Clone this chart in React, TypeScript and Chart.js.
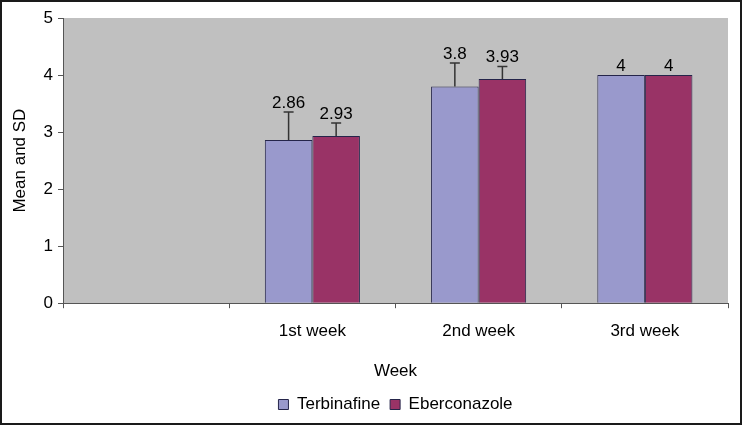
import React, { useEffect, useRef } from 'react';
import { Chart, registerables } from 'chart.js';

Chart.register(...registerables);

const categories = ['', '1st week', '2nd week', '3rd week'];
const seriesNames = ['Terbinafine', 'Eberconazole'];
const terbinafine = [null, 2.86, 3.8, 4];
const eberconazole = [null, 2.93, 3.93, 4];
const terbinafineSD = [0, 0.49, 0.41, 0];
const eberconazoleSD = [0, 0.23, 0.22, 0];
const yTicks = [0, 1, 2, 3, 4, 5];

const FONT = "'Liberation Sans', Arial, sans-serif";

const plotBg = {
  id: 'plotBg',
  beforeDraw(chart: any) {
    const { ctx, chartArea } = chart;
    ctx.save();
    ctx.fillStyle = '#c0c0c0';
    ctx.fillRect(chartArea.left, chartArea.top, chartArea.right - chartArea.left, chartArea.bottom - chartArea.top);
    ctx.restore();
  },
};

const errorLabels = {
  id: 'errorLabels',
  afterDatasetsDraw(chart: any) {
    const { ctx } = chart;
    const ys = chart.scales.y;
    chart.data.datasets.forEach((ds: any, di: number) => {
      const meta = chart.getDatasetMeta(di);
      meta.data.forEach((bar: any, i: number) => {
        const v = ds.data[i];
        if (v == null) return;
        const sd = ds.sd[i] || 0;
        const x = bar.x;
        const yv = ys.getPixelForValue(v);
        const ye = ys.getPixelForValue(v + sd);
        ctx.save();
        if (sd > 0) {
          ctx.strokeStyle = '#333333';
          ctx.lineWidth = 1.5;
          ctx.beginPath();
          ctx.moveTo(x, yv);
          ctx.lineTo(x, ye);
          ctx.moveTo(x - 5, ye);
          ctx.lineTo(x + 5, ye);
          ctx.stroke();
        }
        ctx.fillStyle = '#000000';
        ctx.font = `17px ${FONT}`;
        ctx.textAlign = 'center';
        ctx.textBaseline = 'alphabetic';
        ctx.fillText(String(v), x, ye - 4);
        ctx.restore();
      });
    });
  },
};

export default function App() {
  const ref = useRef<HTMLCanvasElement>(null);

  useEffect(() => {
    if (!ref.current) return;
    const chart = new Chart(ref.current, {
      type: 'bar',
      data: {
        labels: categories,
        datasets: [
          {
            label: seriesNames[0],
            data: terbinafine,
            sd: terbinafineSD,
            backgroundColor: '#9999cc',
            borderColor: '#25254a',
            borderWidth: 1,
          } as any,
          {
            label: seriesNames[1],
            data: eberconazole,
            sd: eberconazoleSD,
            backgroundColor: '#993366',
            borderColor: '#25254a',
            borderWidth: 1,
          } as any,
        ],
      },
      options: {
        animation: false,
        responsive: true,
        maintainAspectRatio: false,
        layout: { padding: { top: 16, right: 12, left: 0, bottom: 0 } },
        datasets: { bar: { categoryPercentage: 0.572, barPercentage: 1 } },
        plugins: {
          legend: {
            position: 'bottom',
            fullSize: false,
            labels: {
              boxWidth: 10,
              boxHeight: 10,
              padding: 10,
              color: '#000',
              font: { family: FONT, size: 17 },
            },
          },
          tooltip: { enabled: false },
        },
        scales: {
          x: {
            grid: { display: true, drawOnChartArea: false, tickLength: 5, color: '#555', offset: true },
            border: { display: true, color: '#555', width: 1 },
            ticks: { color: '#000', font: { family: FONT, size: 17 }, padding: 13, maxRotation: 0 },
            title: {
              display: true,
              text: 'Week',
              color: '#000',
              font: { family: FONT, size: 17 },
              padding: { top: 7, bottom: 4 },
            },
          },
          y: {
            min: 0,
            max: 5,
            afterFit(scale: any) {
              scale.width = 61;
            },
            afterBuildTicks(scale: any) {
              scale.ticks = yTicks.map((v) => ({ value: v }));
            },
            grid: { display: true, drawOnChartArea: false, tickLength: 5, color: '#555' },
            border: { display: true, color: '#555', width: 1 },
            ticks: { color: '#000', font: { family: FONT, size: 17 }, padding: 5 },
            title: {
              display: true,
              text: 'Mean and SD',
              color: '#000',
              font: { family: FONT, size: 17 },
              padding: { top: 8, bottom: 0 },
            },
          },
        },
      },
      plugins: [plotBg, errorLabels],
    });
    return () => chart.destroy();
  }, []);

  return (
    <div
      style={{
        position: 'fixed',
        left: 0,
        top: 0,
        width: 742,
        height: 425,
        boxSizing: 'border-box',
        border: '2px solid #1a1a1a',
        background: '#fff',
      }}
    >
      <div style={{ position: 'relative', width: '100%', height: '100%' }}>
        <canvas ref={ref} />
      </div>
    </div>
  );
}
